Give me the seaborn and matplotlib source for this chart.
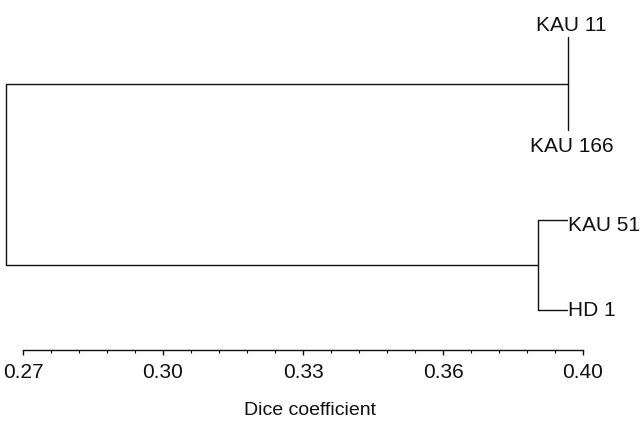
import matplotlib
matplotlib.use("Agg")
import matplotlib.pyplot as plt
import numpy as np
import pandas as pd
import seaborn as sns

sns.set_theme(style="white")
plt.rcParams['font.family'] = ['Liberation Sans', 'DejaVu Sans']

# Data (Dice similarity at each merge)
leaf_labels = ["KAU 11", "KAU 166", "KAU 51", "HD 1"]
join_a = 0.3965      # KAU 11 + KAU 166
join_b = 0.3896      # KAU 51 + HD 1
join_root = 0.2661   # both clusters
leaf_end = 0.3963    # tip of the KAU 51 / HD 1 branches
tick_values = [0.27, 0.3025, 0.335, 0.3675, 0.40]
tick_labels = ["0.27", "0.30", "0.33", "0.36", "0.40"]

# vertical layout of the leaves (pixel rows, top down)
row_top_a, row_bot_a = 37, 130
row_b1, row_b2 = 220, 310
mid_a = (row_top_a + row_bot_a) / 2
mid_b = (row_b1 + row_b2) / 2

segs = [
    [(join_a, row_top_a), (join_a, row_bot_a)],
    [(join_b, row_b1), (join_b, row_b2)],
    [(join_b, row_b1), (leaf_end, row_b1)],
    [(join_b, row_b2), (leaf_end, row_b2)],
    [(join_root, mid_a), (join_root, mid_b)],
    [(join_root, mid_a), (join_a, mid_a)],
    [(join_root, mid_b), (join_b, mid_b)],
]
rows = []
for i, seg in enumerate(segs):
    for x, y in seg:
        rows.append({"seg": i, "x": x, "y": y})
df = pd.DataFrame(rows)

fig = plt.figure(figsize=(6.43, 4.21), dpi=100)
ax = fig.add_axes([0, 0, 1, 1])

# axis scale: 0.27 at px 23, one tick step (0.0325) per 140 px
step = 0.0325 / 140
ax.set_xlim(0.27 - 23 * step, 0.27 + 620 * step)
ax.set_ylim(421, 0)

sns.lineplot(data=df, x="x", y="y", units="seg", estimator=None, sort=False,
             color="#111111", linewidth=1.0, ax=ax)

kw = dict(fontsize=15, color="#111111")
ax.text(join_a + 3 * step, 31, leaf_labels[0], ha="center", va="baseline", **kw)
ax.text(join_a + 4 * step, 152, leaf_labels[1], ha="center", va="baseline", **kw)
ax.text(leaf_end + 1 * step, 231, leaf_labels[2], ha="left", va="baseline", **kw)
ax.text(leaf_end + 1 * step, 316, leaf_labels[3], ha="left", va="baseline", **kw)

for s in ["top", "right", "left"]:
    ax.spines[s].set_visible(False)
ax.spines["bottom"].set_position(("data", 350))
ax.spines["bottom"].set_bounds(0.27, 0.40)
ax.spines["bottom"].set_linewidth(1.0)
ax.spines["bottom"].set_color("#111111")

ax.set_xticks(tick_values)
ax.set_xticklabels(tick_labels, fontsize=15, color="#111111")
ax.set_xticks(np.linspace(0.27, 0.40, 21), minor=True)
ax.tick_params(axis="x", which="major", direction="out", length=3.5, width=1, pad=5.5,
               color="#111111", bottom=True)
ax.tick_params(axis="x", which="minor", direction="out", length=2, width=0.8,
               color="#111111", bottom=True)
ax.set_yticks([])
ax.set_xlabel("")
ax.set_ylabel("")

fig.text(244 / 643, 1 - 415 / 421, "Dice coefficient", ha="left", va="baseline",
         fontsize=14, color="#111111")

fig.savefig("out.png", dpi=100, facecolor="white")
